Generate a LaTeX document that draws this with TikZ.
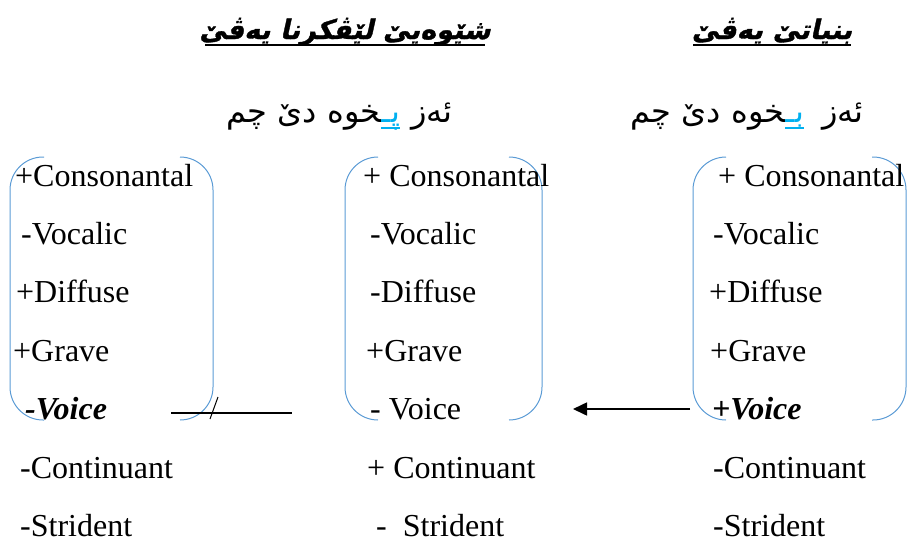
\documentclass[tikz,border=0pt]{standalone}
\usepackage{fontspec}
\usetikzlibrary{arrows.meta}
\setmainfont{Liberation Serif}
\newfontfamily\arabicfont[Script=Arabic]{DejaVu Sans}
\newfontfamily\arabicbf[Script=Arabic,FakeSlant=0.22,FakeBold=1.2]{DejaVu Sans Bold}
\TeXXeTstate=1
\definecolor{brk}{HTML}{5B9BD5}
\definecolor{kblue}{HTML}{00B0F0}
\newcommand{\zwjx}{\char"200D}
\begin{document}
\begin{tikzpicture}[x=1pt,y=-1pt,
  feat/.style={anchor=base west,inner sep=0pt,font=\fontsize{32}{36}\selectfont},
  bfeat/.style={feat,font=\fontsize{32}{36}\selectfont\bfseries\itshape},
  ttl/.style={anchor=base,inner sep=0pt,font=\fontsize{27}{32}\arabicbf},
  sub/.style={anchor=base east,inner sep=0pt,font=\fontsize{32}{36}\arabicfont},
  brack/.style={draw=brk,line width=1pt,rounded corners=33pt},
  ul/.style={line width=2.6pt}]
\useasboundingbox (0,0) rectangle (915,544);
% titles
\node[ttl] (t1) at (345,39) {\beginR شێوەیێ لێڤکرنا یەڤێ\endR};
\node[ttl] (t2) at (772,39) {\beginR بنیاتێ یەڤێ\endR};
\draw[ul] (205,45) -- (485,45);
\draw[ul] (693,45) -- (851,45);
% subtitles
\node[sub] (z1) at (453,122) {\beginR ئەز\endR};
\node[sub,text=kblue,xshift=-11pt] (b1) at (z1.base west) {\beginR پـ\zwjx\endR};
\node[sub] (w1) at (b1.base west) {\beginR\zwjx خوە دێ چم\endR};
\draw[kblue,line width=1.6pt] ([yshift=-6pt]b1.base west) -- ([yshift=-6pt]b1.base east);
\node[sub] (z2) at (864,122) {\beginR ئەز\endR};
\node[sub,text=kblue,xshift=-18pt] (b2) at (z2.base west) {\beginR بـ\zwjx\endR};
\node[sub] (w2) at (b2.base west) {\beginR\zwjx خوە دێ چم\endR};
\draw[kblue,line width=1.6pt] ([yshift=-6pt]b2.base west) -- ([yshift=-6pt]b2.base east);
% brackets
\draw[brack] (44,157) -- (10,157) -- (10,420) -- (44,420);
\draw[brack] (180,157) -- (213,157) -- (213,420) -- (180,420);
\draw[brack] (378,157) -- (345,157) -- (345,420) -- (378,420);
\draw[brack] (509,157) -- (542,157) -- (542,420) -- (509,420);
\draw[brack] (726,157) -- (693,157) -- (693,420) -- (726,420);
\draw[brack] (872,157) -- (906,157) -- (906,420) -- (872,420);
% left column
\node[feat] (l1) at (15,186) {+Consonantal};
\node[feat] (l2) at (21,244.4) {-Vocalic};
\node[feat] (l3) at (16,302.8) {+Diffuse};
\node[feat] (l4) at (13,361.2) {+Grave};
\node[bfeat] (l5) at (25,419.6) {-Voice};
\node[feat] (l6) at (20,478) {-Continuant};
\node[feat] (l7) at (20,536.4) {-Strident};
% middle column
\node[feat] (m1) at (363,186) {+ Consonantal};
\node[feat] (m2) at (370,244.4) {-Vocalic};
\node[feat] (m3) at (370,302.8) {-Diffuse};
\node[feat] (m4) at (366,361.2) {+Grave};
\node[feat] (m5) at (370,419.6) {- Voice};
\node[feat] (m6) at (367,478) {+ Continuant};
\node[feat] (m7) at (376,536.4) {-\ \ Strident};
% right column
\node[feat] (r1) at (718,186) {+ Consonantal};
\node[feat] (r2) at (713,244.4) {-Vocalic};
\node[feat] (r3) at (709,302.8) {+Diffuse};
\node[feat] (r4) at (710,361.2) {+Grave};
\node[bfeat] (r5) at (712,419.6) {+Voice};
\node[feat] (r6) at (713,478) {-Continuant};
\node[feat] (r7) at (713,536.4) {-Strident};
% environment line
\coordinate (e1) at (171,413);
\coordinate (e2) at (292,413);
\coordinate (e3) at (218,397);
\coordinate (e4) at (210,419);
\draw[line width=1.6pt] (e1) -- (e2);
\draw[line width=1pt] (e3) -- (e4);
% arrow
\coordinate (a1) at (690,409);
\coordinate (a2) at (573,409);
\draw[line width=1.6pt,-{Triangle[length=14pt,width=13pt]}] (a1) -- (a2);
\end{tikzpicture}
\end{document}
